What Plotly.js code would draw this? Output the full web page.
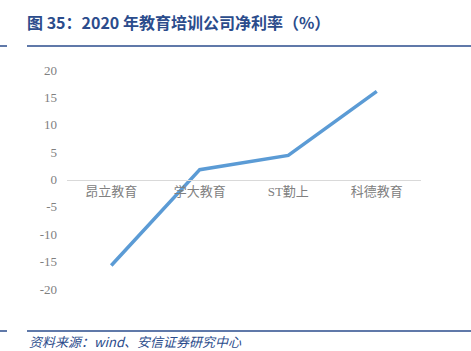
<!DOCTYPE html>
<html>
<head>
<meta charset="utf-8">
<script src="https://cdn.plot.ly/plotly-3.0.1.min.js"></script>
<style>html,body{margin:0;padding:0;background:#fff;}#chart{width:471px;height:351px;}</style>
</head>
<body>
<div id="chart"></div>
<script>
var categories = ["昂立教育", "学大教育", "ST勤上", "科德教育"];
var netMargin = [-15.7, 1.8, 4.4, 16.1];
var yTicks = [-20, -15, -10, -5, 0, 5, 10, 15, 20];

var L = 67, R = 421, T = 70, B = 289, W = 471, H = 351;
function px(x){ return (x - L) / (R - L); }
function py(y){ return (B - y) / (B - T); }

var navy = "#2B4C8C";
var trace = {
  x: categories,
  y: netMargin,
  type: "scatter",
  mode: "lines",
  line: {color: "#5B9BD5", width: 3.5},
  hoverinfo: "skip"
};

var tickFont = {family: "Liberation Serif, Noto Sans CJK SC, serif", size: 13, color: "#808080"};

var layout = {
  width: W, height: H,
  margin: {l: L, r: W - R, t: T, b: H - B, pad: 0},
  paper_bgcolor: "#fff", plot_bgcolor: "#fff",
  showlegend: false,
  title: {
    text: "<b>图 35：2020 年教育培训公司净利率（%）</b>",
    font: {family: "Noto Sans CJK SC, sans-serif", size: 16, color: navy},
    x: 27 / W, xanchor: "left", xref: "container",
    y: 1 - 23 / H, yanchor: "middle", yref: "container"
  },
  xaxis: {
    type: "category",
    range: [-0.5, 3.5],
    anchor: "free",
    position: 0.5,
    showline: true, linecolor: "#D9D9D9", linewidth: 1,
    showgrid: false, zeroline: false,
    ticks: "",
    tickfont: tickFont,
    fixedrange: true
  },
  yaxis: {
    range: [-20, 20],
    tickvals: yTicks,
    ticktext: yTicks.map(String),
    showgrid: false, zeroline: false, showline: false,
    ticks: "",
    ticklabelstandoff: 9,
    tickfont: tickFont,
    fixedrange: true
  },
  shapes: [
    {type: "line", xref: "paper", yref: "paper", x0: px(0), x1: px(7), y0: py(46), y1: py(46), line: {color: navy, width: 1.5}},
    {type: "line", xref: "paper", yref: "paper", x0: px(27), x1: px(471), y0: py(46), y1: py(46), line: {color: navy, width: 1.5}},
    {type: "line", xref: "paper", yref: "paper", x0: px(0), x1: px(7), y0: py(331), y1: py(331), line: {color: navy, width: 1.5}},
    {type: "line", xref: "paper", yref: "paper", x0: px(27), x1: px(471), y0: py(331), y1: py(331), line: {color: navy, width: 1.5}}
  ],
  annotations: [
    {
      text: "<i>资料来源：wind、安信证券研究中心</i>",
      xref: "paper", yref: "paper",
      x: px(27), y: py(341), xanchor: "left", yanchor: "middle",
      showarrow: false,
      font: {family: "Noto Sans CJK SC, sans-serif", size: 13, color: navy}
    }
  ]
};

Plotly.newPlot("chart", [trace], layout, {displayModeBar: false, staticPlot: true});
</script>
</body>
</html>
